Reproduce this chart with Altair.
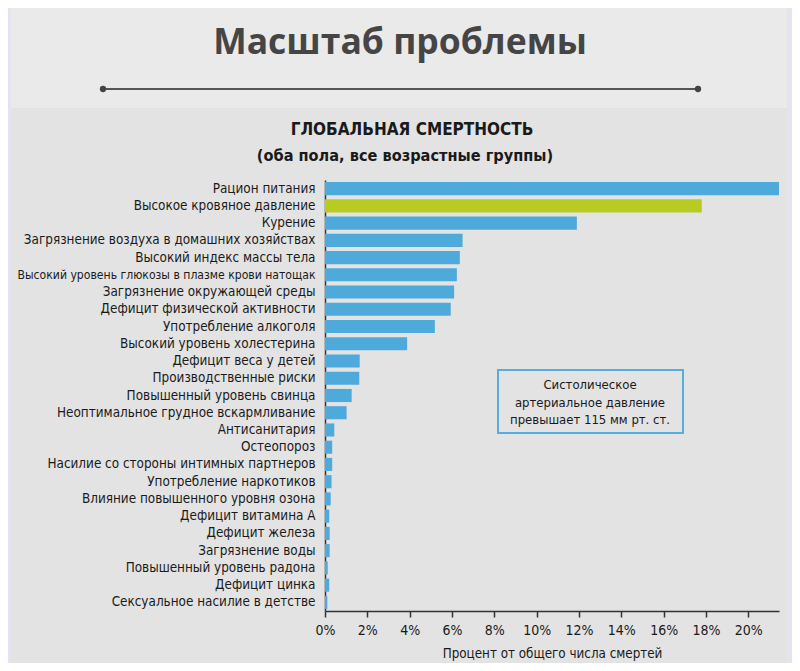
import altair as alt
import pandas as pd

categories = [
    "Рацион питания",
    "Высокое кровяное давление",
    "Курение",
    "Загрязнение воздуха в домашних хозяйствах",
    "Высокий индекс массы тела",
    "Высокий уровень глюкозы в плазме крови натощак",
    "Загрязнение окружающей среды",
    "Дефицит физической активности",
    "Употребление алкоголя",
    "Высокий уровень холестерина",
    "Дефицит веса у детей",
    "Производственные риски",
    "Повышенный уровень свинца",
    "Неоптимальное грудное вскармливание",
    "Антисанитария",
    "Остеопороз",
    "Насилие со стороны интимных партнеров",
    "Употребление наркотиков",
    "Влияние повышенного уровня озона",
    "Дефицит витамина А",
    "Дефицит железа",
    "Загрязнение воды",
    "Повышенный уровень радона",
    "Дефицит цинка",
    "Сексуальное насилие в детстве",
]
values = [21.45, 17.8, 11.9, 6.5, 6.37, 6.23, 6.1, 5.94, 5.19, 3.88, 1.64,
          1.62, 1.26, 1.02, 0.44, 0.34, 0.34, 0.31, 0.27, 0.2, 0.22, 0.22,
          0.13, 0.2, 0.11]
highlight = "Высокое кровяное давление"
x_ticks = [0, 2, 4, 6, 8, 10, 12, 14, 16, 18, 20]

title_text = "Масштаб проблемы"
heading = "ГЛОБАЛЬНАЯ СМЕРТНОСТЬ"
subheading = "(оба пола, все возрастные группы)"
x_title = "Процент от общего числа смертей"
note_lines = ["Систолическое", "артериальное давление", "превышает 115 мм рт. ст."]

df = pd.DataFrame({"cat": categories, "val": values})

COND = "'DejaVu Sans Condensed', 'Liberation Sans Narrow', sans-serif"
BLUE = "#4eaadb"
GREEN = "#b7cb22"
PANEL = "#e3e3e3"
HEADER = "#eaeaea"
TXT = "#1a1a1a"

W, H = 454, 431
PL, PT = 317, 172  # plot origin at page (325, 180)


def px(page_x):
    return page_x - 325


def py(page_y):
    return page_y - 180


one = pd.DataFrame({"k": [0]})

header_bg = alt.Chart(one).mark_rect(color=HEADER, clip=False).encode(
    x=alt.value(px(8)), x2=alt.value(px(792)),
    y=alt.value(py(8)), y2=alt.value(py(108)))
left_strip = alt.Chart(one).mark_rect(color="#e4e4f1", clip=False).encode(
    x=alt.value(px(8)), x2=alt.value(px(11)),
    y=alt.value(py(8)), y2=alt.value(py(663)))
right_strip = alt.Chart(one).mark_rect(color="#e4e4f1", clip=False).encode(
    x=alt.value(px(787)), x2=alt.value(px(792)),
    y=alt.value(py(8)), y2=alt.value(py(663)))

main_title = alt.Chart(one).mark_text(
    font="Open Sans", fontWeight="bold", fontSize=35.5,
    color="#454545", align="center", baseline="middle").encode(
    x=alt.value(px(400)), y=alt.value(py(43)), text=alt.value(title_text))

sep = alt.Chart(one).mark_rule(color="#555555", strokeWidth=2).encode(
    x=alt.value(px(103)), x2=alt.value(px(698)), y=alt.value(py(89)))
dot1 = alt.Chart(one).mark_point(filled=True, color="#444444", size=40, opacity=1).encode(
    x=alt.value(px(103)), y=alt.value(py(89)))
dot2 = alt.Chart(one).mark_point(filled=True, color="#444444", size=40, opacity=1).encode(
    x=alt.value(px(698)), y=alt.value(py(89)))

head1 = alt.Chart(one).mark_text(
    font=COND, fontWeight="bold", fontSize=17, color=TXT,
    align="center", baseline="middle").encode(
    x=alt.value(px(412)), y=alt.value(py(130)), text=alt.value(heading))
head2 = alt.Chart(one).mark_text(
    font=COND, fontWeight="bold", fontSize=16.2, color=TXT,
    align="center", baseline="middle").encode(
    x=alt.value(px(405)), y=alt.value(py(156)), text=alt.value(subheading))

bars = alt.Chart(df).mark_bar(clip=False).encode(
    y=alt.Y("cat:N", sort=categories, title=None,
            scale=alt.Scale(paddingInner=0.24, paddingOuter=0.12),
            axis=alt.Axis(labelFont=COND,
                          labelFontSize={"condition": {"test": "length(datum.label) > 42", "value": 12.1},
                                         "value": 13.4},
                          labelColor=TXT,
                          ticks=False, labelPadding=10, domainColor="#333333",
                          domainWidth=1.5, labelLimit=400)),
    x=alt.X("val:Q", title=x_title,
            scale=alt.Scale(domain=[0, 21.45], nice=False, zero=True),
            axis=alt.Axis(values=x_ticks, labelExpr="datum.value + '%'",
                          labelFont=COND, labelFontSize=14, labelColor=TXT,
                          labelFlush=False,
                          tickColor="#333333", tickSize=6, tickWidth=1.5,
                          domainColor="#333333", domainWidth=1.5,
                          titleFont=COND, titleFontSize=13.3, titleFontWeight="normal",
                          titleColor=TXT, titlePadding=9, grid=False,
                          labelPadding=6)),
    color=alt.condition(alt.datum.cat == highlight, alt.value(GREEN), alt.value(BLUE)),
)

note_box = alt.Chart(one).mark_rect(fill=PANEL, stroke="#55afdc", strokeWidth=2).encode(
    x=alt.value(px(498)), x2=alt.value(px(683)),
    y=alt.value(py(370)), y2=alt.value(py(433)))
note_ys = [385, 402.5, 420]
note_layers = [
    alt.Chart(one).mark_text(
        font=COND, fontSize=13, color=TXT, align="center", baseline="middle").encode(
        x=alt.value(px(590)), y=alt.value(py(yv)), text=alt.value(t))
    for t, yv in zip(note_lines, note_ys)
]

chart = alt.layer(
    header_bg, left_strip, right_strip, main_title, sep, dot1, dot2,
    head1, head2, bars, note_box, *note_layers,
).properties(
    width=W, height=H,
    padding={"left": PL, "top": PT, "right": 13, "bottom": 52},
    autosize=alt.AutoSizeParams(type="none"),
    background=PANEL,
).configure_view(stroke=None)

chart.save("out.html", embed_options={"renderer": "svg", "actions": False})
